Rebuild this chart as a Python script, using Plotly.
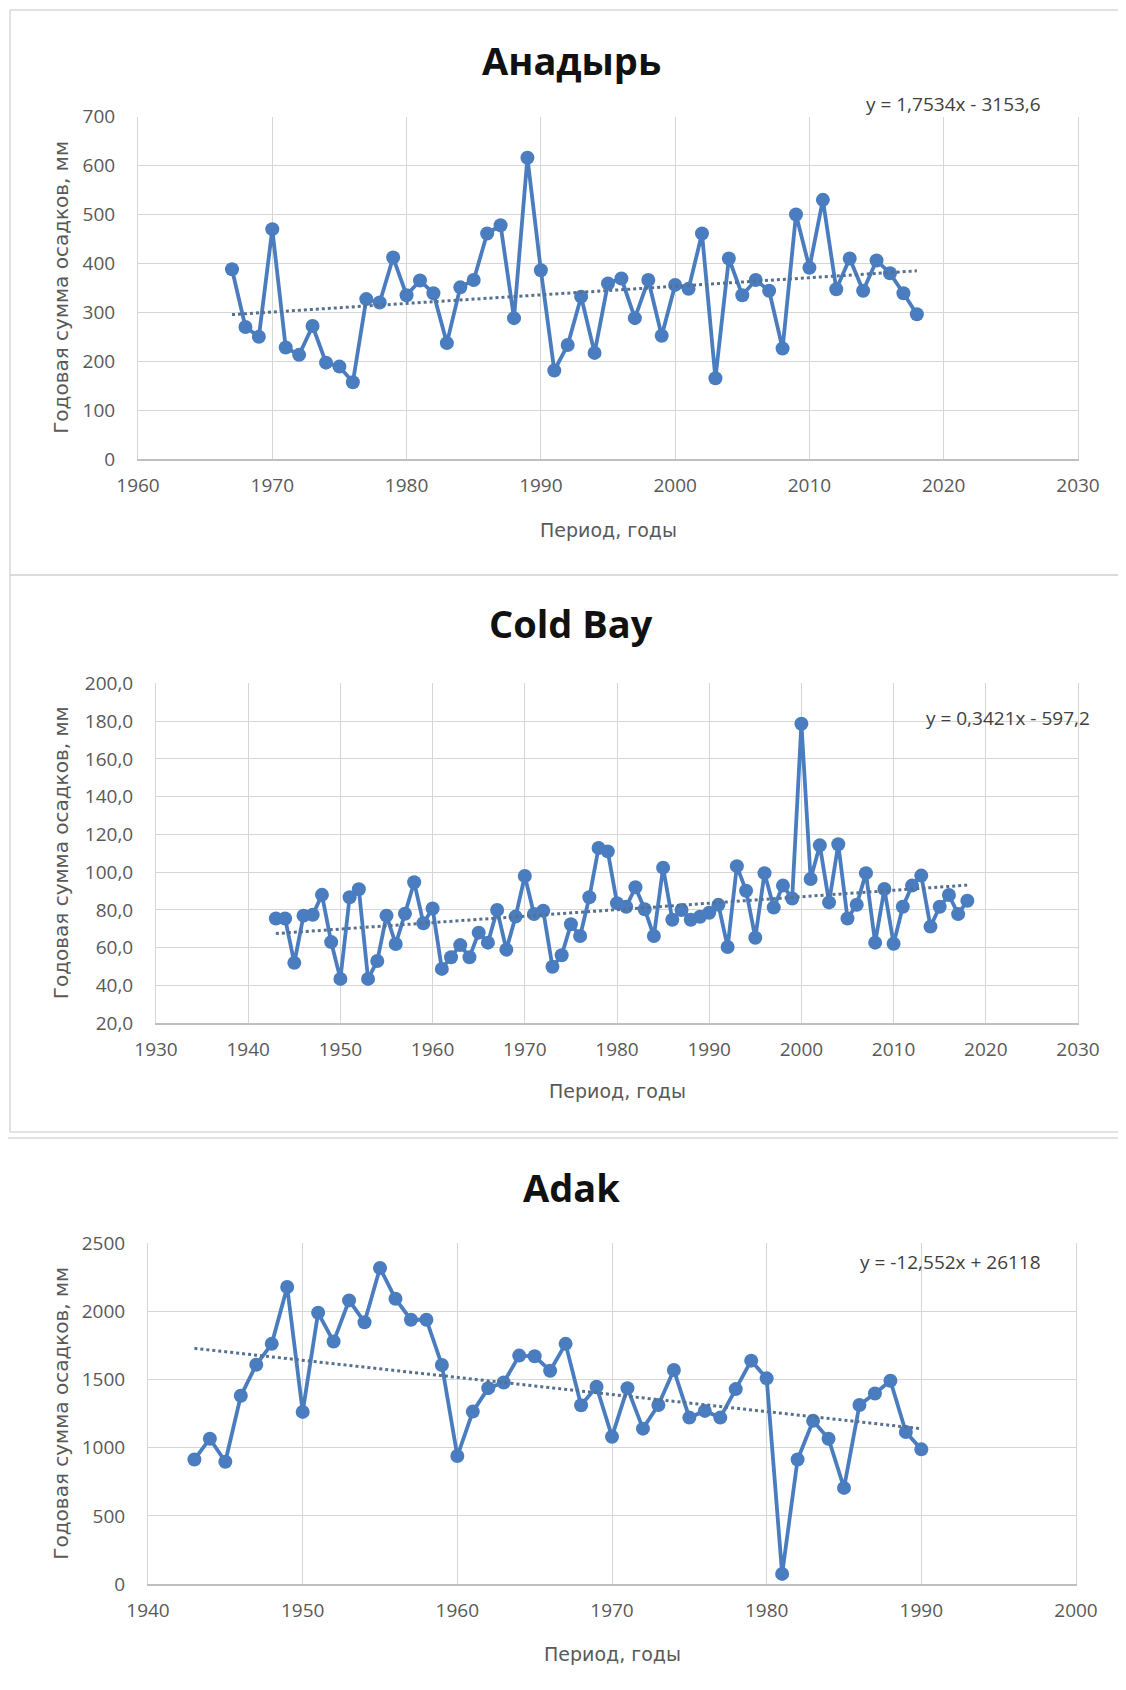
import numpy as np
import plotly.graph_objects as go

# ---------------- data ----------------
anadyr_years = list(range(1967, 2019))
anadyr_precip = [388, 270, 250, 470, 228, 213, 272, 197, 189, 157,
                 327, 320, 412, 335, 365, 339, 237, 351, 366, 461,
                 478, 288, 616, 386, 181, 233, 332, 217, 359, 369,
                 288, 366, 252, 356, 348, 461, 165, 410, 335, 366,
                 344, 226, 500, 391, 530, 347, 410, 344, 406, 380,
                 339, 296]
anadyr_trend = (1.7534, -3153.6)
anadyr_eq = "y = 1,7534x - 3153,6"

coldbay_years = list(range(1943, 2019))
coldbay_precip = [75.5, 75.5, 52.0, 77.0, 77.5, 88.0, 63.0, 43.5, 86.7, 91.0,
                  43.5, 53.0, 77.0, 62.0, 78.0, 94.7, 73.0, 80.8, 48.8, 55.0,
                  61.4, 55.0, 68.0, 62.7, 80.0, 59.0, 76.5, 98.0, 77.8, 79.6,
                  49.9, 56.0, 72.4, 66.2, 86.7, 112.8, 111.0, 83.6, 81.7, 92.0,
                  80.4, 66.2, 102.4, 74.8, 80.0, 74.8, 76.4, 78.5, 82.7, 60.4,
                  103.2, 90.2, 65.3, 99.5, 81.3, 92.9, 86.1, 178.6, 96.4, 114.2,
                  84.0, 114.8, 75.5, 82.8, 99.5, 62.7, 91.1, 62.1, 81.7, 92.9,
                  98.2, 71.2, 81.7, 87.9, 77.8, 84.9]
coldbay_trend = (0.3421, -597.2)
coldbay_eq = "y = 0,3421x - 597,2"

adak_years = list(range(1943, 1991))
adak_precip = [914, 1066, 897, 1381, 1609, 1762, 2179, 1263, 1990, 1779,
               2081, 1921, 2319, 2093, 1939, 1939, 1607, 939, 1265, 1437,
               1479, 1676, 1671, 1565, 1762, 1312, 1447, 1081, 1437, 1140,
               1314, 1570, 1221, 1270, 1221, 1430, 1639, 1509, 74, 914,
               1197, 1066, 705, 1314, 1398, 1491, 1115, 988]
adak_trend = (-12.552, 26118)
adak_eq = "y = -12,552x + 26118"

titles = ["Анадырь", "Cold Bay", "Adak"]
x_title = "Период, годы"
y_title = "Годовая сумма осадков, мм"

# ---------------- layout geometry (page pixels) ----------------
OFF = 8                      # default body margin of the html page
W, H = 1118, 1682
def fx(px): return (px - OFF) / W
def fy(py): return 1 - (py - OFF) / H

panels = [
    dict(years=anadyr_years, vals=anadyr_precip, trend=anadyr_trend, eq=anadyr_eq,
         xr=[1960, 2030], yr=[0, 700], dt=100, fmt="d",
         plot=(138, 1078, 116.7, 459), box=(10, 1123, 10, 575),
         title_y=60, xt_y=530, eq_xy=(1043, 104)),
    dict(years=coldbay_years, vals=coldbay_precip, trend=coldbay_trend, eq=coldbay_eq,
         xr=[1930, 2030], yr=[20, 200], dt=20, fmt=".1f",
         plot=(156, 1078, 683.3, 1023.3), box=(10, 1123, 575, 1132),
         title_y=623, xt_y=1091, eq_xy=(1092, 718)),
    dict(years=adak_years, vals=adak_precip, trend=adak_trend, eq=adak_eq,
         xr=[1940, 2000], yr=[0, 2500], dt=500, fmt="d",
         plot=(148, 1076, 1243.3, 1584), box=(7, 1124, 1138, 1710),
         title_y=1187, xt_y=1654, eq_xy=(1043, 1262)),
]

LINE = "#4a7dbf"
TREND = "#56708f"
GRID = "#d6d6d6"
TICK = "#595959"
FONT = "Open Sans"

fig = go.Figure()
annotations = []
shapes = []
layout_axes = {}

for i, p in enumerate(panels, start=1):
    xa = "x" if i == 1 else f"x{i}"
    ya = "y" if i == 1 else f"y{i}"
    x0, x1, y0, y1 = p["plot"]

    fig.add_trace(go.Scatter(
        x=p["years"], y=p["vals"], mode="lines+markers",
        line=dict(color=LINE, width=3.8),
        marker=dict(color=LINE, size=14),
        xaxis=xa, yaxis=ya, showlegend=False))

    a, b = p["trend"]
    tx = np.array([p["years"][0], p["years"][-1]], dtype=float)
    fig.add_trace(go.Scatter(
        x=tx, y=a * tx + b, mode="lines",
        line=dict(color=TREND, width=3, dash="dot"),
        xaxis=xa, yaxis=ya, showlegend=False))

    xkey = "xaxis" if i == 1 else f"xaxis{i}"
    ykey = "yaxis" if i == 1 else f"yaxis{i}"
    layout_axes[xkey] = dict(
        domain=[fx(x0), fx(x1)], anchor=ya, range=p["xr"], dtick=10, tick0=1900,
        automargin=False,
        showgrid=True, gridcolor=GRID, gridwidth=1, zeroline=False,
        showline=True, linecolor="#bfbfbf", linewidth=1.5,
        ticks="", ticklabelstandoff=8,
        tickfont=dict(family=FONT, size=19, color=TICK), fixedrange=True)
    layout_axes[ykey] = dict(
        domain=[fy(y1), fy(y0)], anchor=xa, range=p["yr"], dtick=p["dt"],
        tick0=0, tickformat=p["fmt"], automargin=False,
        showgrid=True, gridcolor=GRID, gridwidth=1, zeroline=False,
        showline=True, linecolor=GRID, mirror=True,
        ticks="", ticklabelstandoff=18,
        tickfont=dict(family=FONT, size=19, color=TICK), fixedrange=True)

    bx0, bx1, by0, by1 = p["box"]
    shapes.append(dict(type="rect", xref="paper", yref="paper",
                       x0=fx(bx0), x1=fx(bx1), y0=fy(by1), y1=fy(by0),
                       line=dict(color="#d9d9d9", width=1.5), layer="below"))

    annotations.append(dict(text=f"<b>{titles[i-1]}</b>", xref="paper", yref="paper",
                            x=fx(571), y=fy(p["title_y"]), xanchor="center", yanchor="middle",
                            showarrow=False, font=dict(family=FONT, size=38, color="#111111")))
    annotations.append(dict(text=x_title, xref="paper", yref="paper",
                            x=fx((x0 + x1) / 2), y=fy(p["xt_y"]), xanchor="center", yanchor="middle",
                            showarrow=False, font=dict(family="DejaVu Sans", size=19, color=TICK)))
    annotations.append(dict(text=y_title, xref="paper", yref="paper", textangle=-90,
                            x=fx(61), y=fy((y0 + y1) / 2), xanchor="center", yanchor="middle",
                            showarrow=False, font=dict(family="DejaVu Sans", size=20, color=TICK)))
    ex, ey = p["eq_xy"]
    annotations.append(dict(text=p["eq"], xref="paper", yref="paper",
                            x=fx(ex), y=fy(ey), xanchor="right", yanchor="middle",
                            showarrow=False, font=dict(family=FONT, size=19, color="#404040")))

fig.update_layout(
    width=W, height=H, margin=dict(l=0, r=0, t=0, b=0, autoexpand=False),
    paper_bgcolor="white", plot_bgcolor="white",
    separators=", ", showlegend=False,
    annotations=annotations, shapes=shapes, **layout_axes)

fig.write_html("out.html")
